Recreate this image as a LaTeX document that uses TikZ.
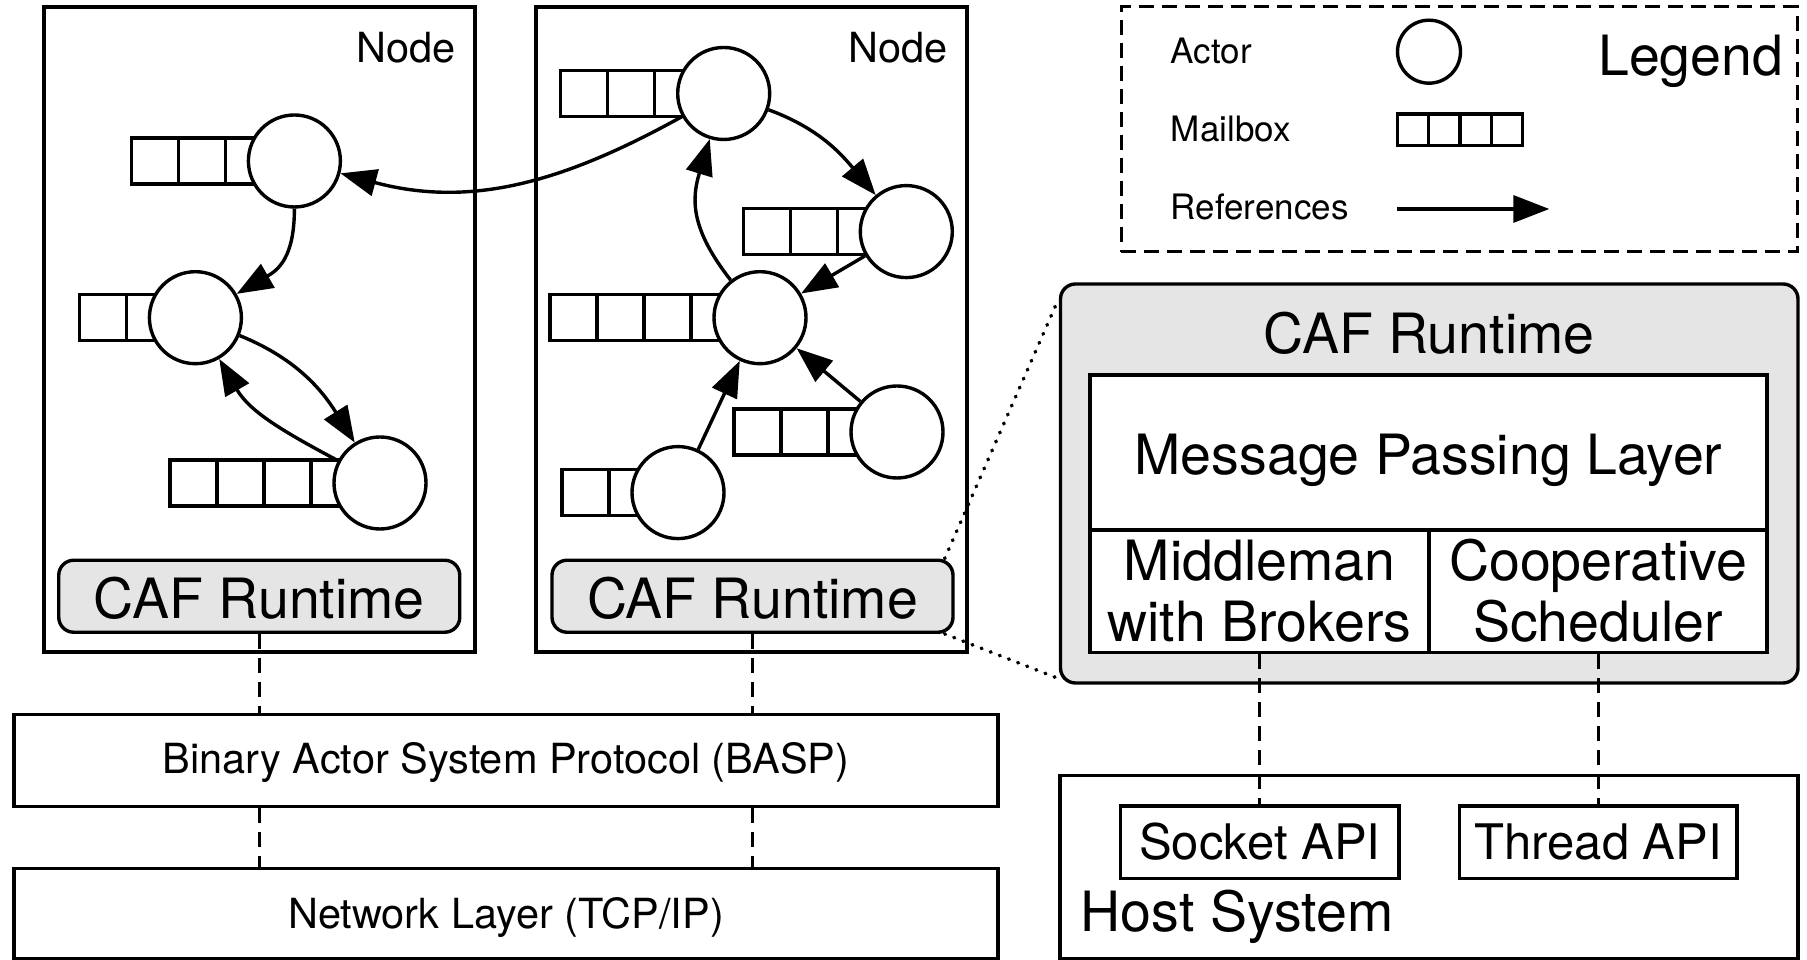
\documentclass[tikz,border=0pt]{standalone}
\usepackage{fontspec}
\setmainfont{TeX Gyre Heros}
\usetikzlibrary{arrows.meta}
\newcommand\fsbig{\fontsize{55.5}{62}\selectfont}
\newcommand\fsmid{\fontsize{49}{56}\selectfont}
\newcommand\fsnode{\fontsize{41.5}{46}\selectfont}
\newcommand\fsleg{\fontsize{35}{40}\selectfont}
\newcommand\mailboxcells[3]{\foreach \k in {1,...,#3}{\draw[cell] ({#1-22-47*\k},{#2-23}) rectangle ++(47,46);}}
\begin{document}
\begin{tikzpicture}[x=1pt,y=1pt,
  box/.style={draw, line width=3.4pt, rectangle, inner sep=0pt},
  actor/.style={circle, draw, fill=white, line width=3.4pt, minimum size=92pt, inner sep=0pt},
  cell/.style={draw, line width=3.4pt},
  ref/.style={-{Triangle[length=36pt,width=27pt]}, line width=3.4pt},
  dashline/.style={line width=3pt, dash pattern=on 15pt off 9pt},
  legbox/.style={draw, line width=3pt, dash pattern=on 15pt off 8pt, inner sep=0pt},
  dotline/.style={line width=3.6pt, line cap=round, dash pattern=on 0.8pt off 9pt},
  runtime/.style={draw, line width=3.4pt, rounded corners=15pt, fill=black!10, inner sep=0pt},
  lbl/.style={inner sep=0pt}
]
\fill[white] (0,0) rectangle (1807,960);
\useasboundingbox (0,0) rectangle (1807,960);

% ---- node boxes
\node[box, minimum width=431pt, minimum height=645pt] (n1) at (259.5,630.5) {};
\node[box, minimum width=431pt, minimum height=645pt] (n2) at (751.5,630.5) {};
\node[lbl, font=\fsnode, anchor=base east] (n1lbl) at (456,897) {Node};
\node[lbl, font=\fsnode, anchor=base east] (n2lbl) at (948,897) {Node};

\node[runtime, minimum width=401pt, minimum height=72pt, font=\fsbig, text height=44pt, text depth=0pt] (lcaf) at (259.25,363.75) {CAF Runtime};
\node[runtime, minimum width=401pt, minimum height=72pt, font=\fsbig, text height=44pt, text depth=0pt] (rcaf) at (752.5,363.75) {CAF Runtime};

% ---- mailboxes
\mailboxcells{294.4}{799}{3}
\mailboxcells{195.4}{642.3}{2}
\mailboxcells{380}{477}{4}
\mailboxcells{723.7}{866.5}{3}
\mailboxcells{906.3}{728.4}{3}
\mailboxcells{760}{642.3}{4}
\mailboxcells{897}{528}{3}
\mailboxcells{678}{467.4}{2}

% ---- actors
\node[actor] (A1) at (294.4,799) {};
\node[actor] (A2) at (195.4,642.3) {};
\node[actor] (A3) at (380,477) {};
\node[actor] (B1) at (723.7,866.5) {};
\node[actor] (B2) at (906.3,728.4) {};
\node[actor] (B3) at (760,642.3) {};
\node[actor] (B4) at (897,528) {};
\node[actor] (B5) at (678,467.4) {};

% ---- references
\draw[ref] (A1) to[out=-90, in=30, looseness=1.2] (A2);
\draw[ref] (A2) to[out=-22, in=122] (A3);
\draw[ref] (A3) to[out=152, in=-60] (A2);
\draw[ref] (B1) to[out=-151, in=-15] (A1);
\draw[ref] (B1) to[out=-20, in=130] (B2);
\draw[ref] (B2) -- (B3);
\draw[ref] (B3) to[out=128, in=-107, looseness=1.15] (B1);
\draw[ref] (B5) -- (B3);
\draw[ref] (B4) -- (B3);

% ---- protocol layers
\node[box, minimum width=984pt, minimum height=92pt, font=\fsnode, text height=28pt, text depth=2.4pt] (basp) at (506,199.5) {Binary Actor System Protocol (BASP)};
\node[box, minimum width=984pt, minimum height=90pt, font=\fsnode, text height=30pt, text depth=0pt] (net) at (506,46.6) {Network Layer (TCP/IP)};
\draw[dashline] (lcaf.south) -- (lcaf.south |- basp.north);
\draw[dashline] (lcaf.south |- basp.south) -- (lcaf.south |- net.north);
\draw[dashline] (rcaf.south) -- (rcaf.south |- basp.north);
\draw[dashline] (rcaf.south |- basp.south) -- (rcaf.south |- net.north);

% ---- legend
\node[legbox, minimum width=676pt, minimum height=245pt] (legend) at (1459,830.8) {};
\node[lbl, font=\fsbig, anchor=base west] (legtitle) at (1598,884) {Legend};
\node[lbl, font=\fsleg, anchor=base west] (lact) at (1170.7,896) {Actor};
\node[lbl, font=\fsleg, anchor=base west] (lmail) at (1170.7,818.3) {Mailbox};
\node[lbl, font=\fsleg, anchor=base west] (lref) at (1170.7,740) {References};
\node[actor, minimum size=63pt] (legactor) at (1429,908.3) {};
\foreach \k in {0,...,3}{\draw[cell] ({1397.3+31.35*\k},814.2) rectangle ++(31.35,31.7);}
\coordinate (la1) at (1397.3,751);
\coordinate (la2) at (1549.3,751);
\draw[ref] (la1) -- (la2);

% ---- CAF runtime detail
\node[runtime, minimum width=737.5pt, minimum height=399pt] (bigcaf) at (1429.25,476.5) {};
\node[lbl, font=\fsbig, anchor=base] (bigtitle) at (1429,606.7) {CAF Runtime};
\node[box, fill=white, minimum width=677pt, minimum height=155pt] (mpl) at (1428.5,507.5) {};
\node[lbl, font=\fsbig, anchor=base] (mpltext) at (1428.5,485) {Message Passing Layer};
\node[box, fill=white, minimum width=339pt, minimum height=122.7pt] (mid) at (1259.5,368.65) {};
\node[box, fill=white, minimum width=338pt, minimum height=122.7pt] (sched) at (1598,368.65) {};
\node[lbl, font=\fsbig, anchor=base] (midt1) at (1259.5,379) {Middleman};
\node[lbl, font=\fsbig, anchor=base] (midt2) at (1259.5,318.3) {with Brokers};
\node[lbl, font=\fsbig, anchor=base] (scht1) at (1598,379) {Cooperative};
\node[lbl, font=\fsbig, anchor=base] (scht2) at (1598,318.3) {Scheduler};

\draw[dotline] ([xshift=-10pt]rcaf.north east) -- ([yshift=-16pt]bigcaf.north west);
\draw[dotline] ([xshift=-10pt]rcaf.south east) -- ([yshift=6pt]bigcaf.south west);

% ---- host system
\node[box, minimum width=738pt, minimum height=183pt] (host) at (1429,92.8) {};
\node[lbl, font=\fsbig, anchor=base west] (hostlbl) at (1080.7,28.3) {Host System};
\node[box, minimum width=278.3pt, minimum height=72.7pt, font=\fsmid, text height=34pt, text depth=0pt] (sock) at (1259.85,117.65) {Socket API};
\node[box, minimum width=277.7pt, minimum height=72.7pt, font=\fsmid, text height=34pt, text depth=0pt] (thr) at (1598.15,117.65) {Thread API};
\draw[dashline] (mid.south) -- (mid.south |- sock.north);
\draw[dashline] (sched.south) -- (sched.south |- thr.north);
\end{tikzpicture}
\end{document}
